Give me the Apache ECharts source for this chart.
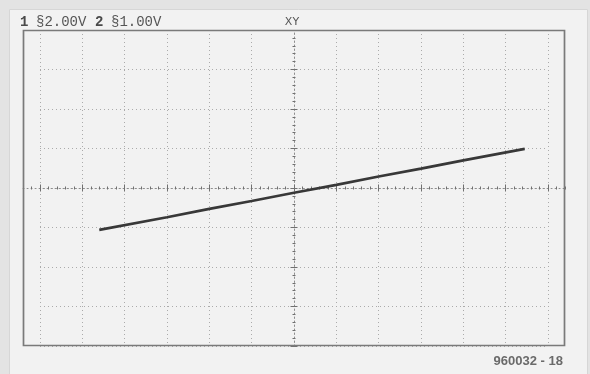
<!DOCTYPE html>
<html>
<head>
<meta charset="utf-8">
<script src="https://cdn.jsdelivr.net/npm/echarts@6/dist/echarts.min.js"></script>
<style>
  html, body { margin: 0; padding: 0; background: #e3e3e3; }
  #chart { width: 590px; height: 374px; }
</style>
</head>
<body>
<div id="chart"></div>
<script>
// XY trace: channel 1 (X, volts) against channel 2 (Y, volts)
const traceX = [-9.2, -6, -4, -2, 0, 2, 4, 6, 8, 10.9];
const traceY = [-1.06, -0.74, -0.53, -0.33, -0.12, 0.08, 0.29, 0.49, 0.70, 0.99];

// Screen settings: 2 V/div horizontally, 1 V/div vertically
const xRange = [-12, 12];      // span of the dotted graticule
const xStep = 2;
const xFrameRange = [-12.8, 12.8]; // span of the full screen frame
const xFine = 0.4;             // fifth of a division
const yRange = [-4, 4];
const yStep = 1;
const yFine = 0.2;

// Header readout and figure tag
const headerParts = ['1', '§2.00V', '2', '§1.00V'];
const modeLabel = 'XY';
const figureTag = '960032 - 18';

const chart = echarts.init(document.getElementById('chart'), null, { renderer: 'canvas' });

const gridCol = '#ababab';
const tickCol = '#707070';
const lineCol = '#8e8e8e';

function axis(extra) {
  return Object.assign({
    type: 'value',
    axisLabel: { show: false },
    axisLine: { show: false },
    axisTick: { show: false },
    splitLine: { show: false }
  }, extra);
}
function ticks(len) {
  return { show: true, length: len, lineStyle: { color: tickCol, width: 1 } };
}

// px per volt on the main graticule, used to size the frame-wide grid
const mainLeft = 40, mainRight = 42;
const pxPerV = (590 - mainLeft - mainRight) / (xRange[1] - xRange[0]);
const centreX = mainLeft + (0 - xRange[0]) * pxPerV;
const frameLeft = centreX + xFrameRange[0] * pxPerV;
const frameRight = 590 - (centreX + xFrameRange[1] * pxPerV);

const option = {
  animation: false,
  backgroundColor: '#e3e3e3',
  grid: [
    { left: mainLeft, right: mainRight, top: 30, bottom: 28 },
    { left: frameLeft, right: frameRight, top: 30, bottom: 28 }
  ],
  xAxis: [
    // graticule columns + division ticks on the centre line
    axis({ gridIndex: 0, position: 'bottom', min: xRange[0], max: xRange[1], interval: xStep,
      axisLine: { show: false, onZero: true, onZeroAxisIndex: 0 },
      axisTick: ticks(3.5),
      splitLine: { show: true, lineStyle: { color: gridCol, width: 1, type: [1, 3] } } }),
    axis({ gridIndex: 0, position: 'top', min: xRange[0], max: xRange[1], interval: xStep,
      axisLine: { show: false, onZero: true, onZeroAxisIndex: 0 },
      axisTick: ticks(3.5) }),
    // centre line across the whole screen with fifth-division marks
    axis({ gridIndex: 1, position: 'bottom', min: xFrameRange[0], max: xFrameRange[1], interval: xFine,
      axisLine: { show: true, onZero: true, onZeroAxisIndex: 1, lineStyle: { color: lineCol, width: 1, type: [1, 3] } },
      axisTick: ticks(1.5) }),
    axis({ gridIndex: 1, position: 'top', min: xFrameRange[0], max: xFrameRange[1], interval: xFine,
      axisLine: { show: false, onZero: true, onZeroAxisIndex: 1 },
      axisTick: ticks(1.5) })
  ],
  yAxis: [
    axis({ gridIndex: 0, position: 'left', min: yRange[0], max: yRange[1], interval: yStep,
      axisLine: { show: true, onZero: true, onZeroAxisIndex: 0, lineStyle: { color: lineCol, width: 1, type: [1, 3] } },
      axisTick: ticks(3.5),
      minorTick: { show: true, splitNumber: 5, length: 1.5, lineStyle: { color: tickCol, width: 1 } },
      splitLine: { show: true, lineStyle: { color: gridCol, width: 1, type: [1, 3] } } }),
    axis({ gridIndex: 1, position: 'left', min: yRange[0], max: yRange[1], interval: yStep }),
    axis({ gridIndex: 0, position: 'right', min: yRange[0], max: yRange[1], interval: yStep,
      axisLine: { show: false, onZero: true, onZeroAxisIndex: 0 },
      axisTick: ticks(3.5),
      minorTick: { show: true, splitNumber: 5, length: 1.5, lineStyle: { color: tickCol, width: 1 } } })
  ],
  graphic: [
    // light screen panel
    { type: 'rect', z: -10, silent: true,
      shape: { x: 9.5, y: 9.5, width: 578, height: 380 },
      style: { fill: '#f2f2f2', stroke: '#d6d6d6', lineWidth: 1 } },
    // screen frame
    { type: 'rect', z: 10, silent: true,
      shape: { x: 23.5, y: 30.5, width: 541, height: 315 },
      style: { fill: 'transparent', stroke: '#7a7a7a', lineWidth: 1.7 } },
    // readout
    { type: 'text', z: 10, x: 20, y: 15,
      style: { text: headerParts[0], font: 'bold 14px "Liberation Mono"', fill: '#4a4a4a' } },
    { type: 'text', z: 10, x: 36, y: 15,
      style: { text: headerParts[1], font: '14px "Liberation Mono"', fill: '#555' } },
    { type: 'text', z: 10, x: 95, y: 15,
      style: { text: headerParts[2], font: 'bold 14px "Liberation Mono"', fill: '#4a4a4a' } },
    { type: 'text', z: 10, x: 111, y: 15,
      style: { text: headerParts[3], font: '14px "Liberation Mono"', fill: '#555' } },
    { type: 'text', z: 10, x: 292, y: 17,
      style: { text: modeLabel, font: '11px "DejaVu Sans"', fill: '#555', align: 'center' } },
    { type: 'text', z: 10, x: 563, y: 355,
      style: { text: figureTag, font: 'bold 13px "Liberation Sans"', fill: '#6a6a6a', align: 'right' } }
  ],
  series: [
    {
      type: 'line',
      xAxisIndex: 0,
      yAxisIndex: 0,
      data: traceX.map((x, i) => [x, traceY[i]]),
      showSymbol: false,
      smooth: false,
      z: 5,
      lineStyle: { color: '#383838', width: 2.7 }
    }
  ]
};

chart.setOption(option);
</script>
</body>
</html>
